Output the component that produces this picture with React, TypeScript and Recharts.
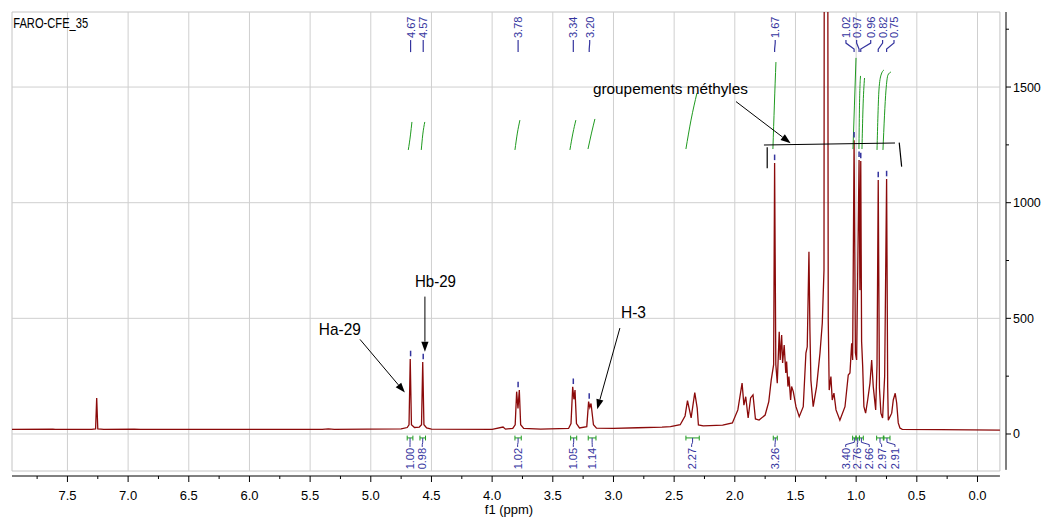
import { ComposedChart, Line, XAxis, YAxis, ReferenceLine, ReferenceDot, ReferenceArea } from 'recharts';

document.body.style.margin = '0';

// axis ranges (ppm reversed, intensity)
const X_MIN = -0.235;
const X_MAX = 7.957;
const Y_MIN = -181.6;
const Y_MAX = 1824.4;
const BOX_RIGHT = -0.185;
const BOX_BOTTOM = -160;

const xMajorTicks = [0, 0.5, 1, 1.5, 2, 2.5, 3, 3.5, 4, 4.5, 5, 5.5, 6, 6.5, 7, 7.5];
const xMinorTicks = [0.25, 0.75, 1.25, 1.75, 2.25, 2.75, 3.25, 3.75, 4.25, 4.75, 5.25, 5.75, 6.25, 6.75, 7.25, 7.75];
const yMajorTicks = [0, 500, 1000, 1500];
const yMinorTicks = [250, 750, 1250, 1750];

// spectrum: [ppm, intensity]
const spectrum: [number, number][] = [
  [7.957, 20], [7.62, 21], [7.6, 20], [7.3, 20], [7.268, 22], [7.259, 156], [7.25, 22], [7.2, 20],
  [6.95, 21], [6.9, 20], [5.4, 20], [5.35, 22], [5.3, 20], [4.75, 22], [4.7, 28], [4.685, 40],
  [4.675, 324], [4.665, 40], [4.64, 28], [4.6, 30], [4.582, 40], [4.572, 311], [4.562, 40], [4.54, 26],
  [4.5, 21], [4.0, 20], [3.91, 30], [3.89, 21], [3.83, 24], [3.81, 40], [3.798, 183], [3.787, 110],
  [3.776, 190], [3.765, 40], [3.74, 24], [3.6, 21], [3.37, 24], [3.35, 45], [3.336, 204], [3.326, 150],
  [3.317, 190], [3.305, 45], [3.28, 26], [3.22, 32], [3.205, 140], [3.195, 115], [3.185, 132], [3.165, 40],
  [3.14, 25], [3.0, 24], [2.8, 27], [2.6, 30], [2.53, 32], [2.45, 40], [2.41, 78], [2.39, 144],
  [2.36, 70], [2.33, 179], [2.31, 112], [2.3, 39], [2.26, 35], [2.1, 38], [2.02, 48], [1.975, 104],
  [1.94, 220], [1.925, 125], [1.91, 161], [1.89, 69], [1.87, 156], [1.85, 169], [1.83, 65], [1.8, 60],
  [1.75, 82], [1.72, 140], [1.7, 233], [1.68, 300], [1.672, 1172], [1.662, 300], [1.65, 220], [1.634, 442],
  [1.626, 320], [1.614, 428], [1.606, 307], [1.593, 385], [1.58, 264], [1.573, 313], [1.562, 205], [1.554, 248],
  [1.54, 147], [1.532, 205], [1.518, 183], [1.496, 118], [1.469, 75], [1.436, 118], [1.414, 350], [1.403, 377],
  [1.389, 788], [1.381, 450], [1.373, 233], [1.354, 118], [1.326, 205], [1.298, 350], [1.279, 480], [1.265, 709],
  [1.257, 6000], [1.243, 6000], [1.23, 493], [1.222, 190], [1.208, 248], [1.197, 147], [1.183, 177], [1.166, 104],
  [1.134, 60], [1.092, 118], [1.065, 255], [1.051, 264], [1.037, 392], [1.029, 320], [1.017, 1270], [1.006, 350],
  [0.996, 320], [0.976, 1185], [0.969, 622], [0.962, 1180], [0.955, 400], [0.946, 291], [0.936, 118], [0.922, 90],
  [0.905, 147], [0.886, 220], [0.872, 320], [0.859, 205], [0.839, 104], [0.828, 300], [0.818, 1098], [0.808, 200],
  [0.796, 90], [0.782, 69], [0.765, 250], [0.749, 1102], [0.74, 200], [0.735, 60], [0.707, 90], [0.694, 147],
  [0.678, 176], [0.666, 134], [0.653, 48], [0.639, 26], [0.62, 20], [0.3, 19], [-0.185, 17],
];

// integral curves (green)
const integralCurves: [number, number][][] = [
  [[4.691, 1228], [4.673, 1293], [4.661, 1349]],
  [[4.584, 1228], [4.572, 1293], [4.555, 1349]],
  [[3.812, 1228], [3.792, 1301], [3.771, 1357]],
  [[3.359, 1228], [3.334, 1301], [3.31, 1357]],
  [[3.21, 1232], [3.181, 1301], [3.153, 1362]],
  [[2.403, 1232], [2.361, 1357], [2.312, 1474]],
  [[1.686, 1232], [1.674, 1422], [1.661, 1608]],
  [[1.026, 1232], [1.014, 1422], [1.001, 1626]],
  [[0.977, 1232], [0.973, 1401], [0.964, 1548]],
  [[0.952, 1232], [0.944, 1401], [0.931, 1539]],
  [[0.828, 1228], [0.812, 1487], [0.795, 1552], [0.771, 1574]],
  [[0.779, 1228], [0.754, 1487], [0.738, 1552], [0.713, 1565]],
];

// integration regions and values
const integralFrom = [4.7, 4.595, 3.812, 3.353, 3.208, 2.403, 1.683, 1.029, 1.001, 0.973, 0.831, 0.771];
const integralTo = [4.653, 4.549, 3.76, 3.303, 3.144, 2.293, 1.65, 1.001, 0.973, 0.941, 0.776, 0.721];
const integralLabelAt = [4.677, 4.576, 3.79, 3.331, 3.175, 2.356, 1.669, 1.086, 0.991, 0.892, 0.79, 0.68];
const integralValues = ['1.00', '0.98', '1.02', '1.05', '1.14', '2.27', '3.26', '3.40', '2.76', '2.66', '2.97', '2.91'];

// peak picking
const peakText = ['4.67', '4.57', '3.78', '3.34', '3.20', '1.67', '1.02', '0.97', '0.96', '0.82', '0.75'];
const peakPpm = [4.672, 4.568, 3.786, 3.331, 3.2, 1.672, 1.017, 0.976, 0.962, 0.818, 0.749];
const peakHeight = [324, 311, 190, 204, 140, 1172, 1270, 1185, 1180, 1098, 1102];
const peakLabelAt = [4.672, 4.568, 3.786, 3.331, 3.196, 1.667, 1.084, 0.996, 0.88, 0.782, 0.688];

// annotations
const noteText = ['Ha-29', 'Hb-29', 'H-3', 'groupements méthyles'];
const noteX = [5.428, 4.636, 2.938, 3.169];
const noteY = [428, 634, 501, 1472];
const noteWidth = [42, 41, 25, 155];
const noteSize = [17, 17, 17, 15.5];
const arrowTail: [number, number][] = [[5.089, 409], [4.554, 594], [2.947, 458], [1.99, 1437]];
const arrowHead: [number, number][] = [[4.719, 179], [4.554, 356], [3.134, 107], [1.54, 1257]];
const bracket: [number, number][][] = [
  [[1.76, 1249.5], [0.68, 1258]],
  [[1.733, 1239.5], [1.733, 1148.7]],
  [[0.645, 1259.6], [0.625, 1156]],
];

const BLUE = '#34349e';
const GREEN = '#1f9a1f';
const GRID = '#cfcfcf';
const FONT = 'Liberation Sans, Arial, sans-serif';

const toPts = (arr: [number, number][]) => arr.map(([x, y]) => ({ x, y }));

const XTick = (props: any) => {
  const { x, y, payload } = props;
  const v = payload.value as number;
  const major = Math.abs(v * 2 - Math.round(v * 2)) < 1e-6;
  return (
    <g>
      <line x1={x} x2={x} y1={y} y2={y + (major ? 6 : 3)} stroke="#000" />
      {major && (
        <text x={x} y={y + 24} textAnchor="middle" fontSize={13} fill="#000" fontFamily={FONT}>
          {v.toFixed(1)}
        </text>
      )}
    </g>
  );
};

const YTick = (props: any) => {
  const { x, y, payload } = props;
  const v = payload.value as number;
  const major = v % 500 === 0;
  return (
    <g>
      <line x1={x} x2={x + (major ? 5 : 3)} y1={y} y2={y} stroke="#000" />
      {major && (
        <text x={x + 7} y={y + 4.5} fontSize={12.5} fill="#000" fontFamily={FONT}>
          {v}
        </text>
      )}
    </g>
  );
};

const arrowShape = (p: any) => {
  const { x1, y1, x2, y2 } = p;
  const a = Math.atan2(y2 - y1, x2 - x1);
  const len = 10;
  const half = 3.6;
  const bx = x2 - len * Math.cos(a);
  const by = y2 - len * Math.sin(a);
  const pts = `${x2},${y2} ${bx + half * Math.sin(a)},${by - half * Math.cos(a)} ${bx - half * Math.sin(a)},${by + half * Math.cos(a)}`;
  return (
    <g>
      <line x1={x1} y1={y1} x2={bx} y2={by} stroke="#000" strokeWidth={1} />
      <polygon points={pts} fill="#000" />
    </g>
  );
};

const vText = (text: string, anchor: 'start' | 'end', color: string) => (p: any) => (
  <text
    x={p.cx}
    y={p.cy}
    transform={`rotate(-90 ${p.cx} ${p.cy})`}
    textAnchor={anchor}
    dominantBaseline="central"
    fontSize={11}
    fill={color}
    fontFamily={FONT}
  >
    {text}
  </text>
);

const hText = (text: string, size: number, width: number) => (p: any) => (
  <text
    x={p.cx}
    y={p.cy}
    fontSize={size}
    fill="#000"
    fontFamily={FONT}
    textLength={width}
    lengthAdjust="spacingAndGlyphs"
  >
    {text}
  </text>
);

export default function App() {
  const spec = toPts(spectrum);

  return (
    <div style={{ width: 1042, height: 517, background: '#fff' }}>
      <ComposedChart width={1042} height={517} margin={{ top: 12, right: 0, bottom: 0, left: 12 }} style={{ fontFamily: FONT }}>
        <XAxis
          type="number"
          dataKey="x"
          domain={[X_MIN, X_MAX]}
          reversed
          allowDataOverflow
          ticks={[...xMajorTicks, ...xMinorTicks].sort((a, b) => a - b)}
          interval={0}
          tick={(p: any) => <XTick {...p} />}
          tickLine={false}
          axisLine={false}
          tickSize={0}
          tickMargin={0}
          height={41}
          label={{ value: 'f1 (ppm)', position: 'insideBottom', offset: 3, fill: '#000', fontSize: 13 }}
        />
        <YAxis
          type="number"
          orientation="right"
          domain={[Y_MIN, Y_MAX]}
          allowDataOverflow
          ticks={[...yMajorTicks, ...yMinorTicks].sort((a, b) => a - b)}
          interval={0}
          tick={(p: any) => <YTick {...p} />}
          tickLine={false}
          axisLine={false}
          tickSize={0}
          tickMargin={0}
          width={36}
        />

        {xMajorTicks.map((t) => (
          <ReferenceLine key={`gx${t}`} segment={[{ x: t, y: BOX_BOTTOM }, { x: t, y: Y_MAX }]} stroke={GRID} ifOverflow="visible" />
        ))}
        {yMajorTicks.map((t) => (
          <ReferenceLine key={`gy${t}`} segment={[{ x: X_MAX, y: t }, { x: BOX_RIGHT, y: t }]} stroke={GRID} ifOverflow="visible" />
        ))}
        <ReferenceArea x1={BOX_RIGHT} x2={X_MAX} y1={BOX_BOTTOM} y2={Y_MAX} fill="none" stroke="#c4c4c4" ifOverflow="visible" />
        <ReferenceLine segment={[{ x: X_MAX, y: Y_MIN }, { x: BOX_RIGHT, y: Y_MIN }]} stroke="#000" ifOverflow="visible" />
        <ReferenceLine segment={[{ x: X_MIN, y: -155 }, { x: X_MIN, y: Y_MAX }]} stroke="#000" ifOverflow="visible" />

        <Line data={spec} dataKey="y" type="linear" stroke="#8b0a0a" strokeWidth={1.3} dot={false} activeDot={false} isAnimationActive={false} />

        {integralCurves.map((c, i) => (
          <Line key={`ic${i}`} data={toPts(c)} dataKey="y" type="monotone" stroke={GREEN} strokeWidth={1} dot={false} activeDot={false} isAnimationActive={false} />
        ))}

        {/* peak picking markers and labels */}
        {peakPpm.map((p, i) => (
          <ReferenceLine key={`pm${i}`} segment={[{ x: p, y: peakHeight[i] + 12 }, { x: p, y: peakHeight[i] + 36 }]} stroke={BLUE} strokeWidth={1.5} />
        ))}
        {peakPpm.map((p, i) => (
          <Line
            key={`pc${i}`}
            data={toPts([[p, 1651], [p, 1664], [peakLabelAt[i], 1690], [peakLabelAt[i], 1703]])}
            dataKey="y"
            type="linear"
            stroke={BLUE}
            strokeWidth={1.2}
            dot={false}
            activeDot={false}
            isAnimationActive={false}
          />
        ))}
        {peakText.map((t, i) => (
          <ReferenceDot key={`pt${i}`} x={peakLabelAt[i]} y={1712} r={0} shape={vText(t, 'start', BLUE)} />
        ))}

        {/* integration marks */}
        {integralFrom.map((f, i) => (
          <ReferenceLine key={`ih${i}`} segment={[{ x: f, y: -17 }, { x: integralTo[i], y: -17 }]} stroke={GREEN} />
        ))}
        {integralFrom.map((f, i) => (
          <ReferenceLine key={`if${i}`} segment={[{ x: f, y: -7 }, { x: f, y: -28 }]} stroke={GREEN} />
        ))}
        {integralTo.map((f, i) => (
          <ReferenceLine key={`it${i}`} segment={[{ x: f, y: -7 }, { x: f, y: -28 }]} stroke={GREEN} />
        ))}
        {integralFrom.map((f, i) => {
          const c = (f + integralTo[i]) / 2;
          return (
            <Line
              key={`icn${i}`}
              data={toPts([[c, -17], [c, -36], [integralLabelAt[i], -46], [integralLabelAt[i], -56]])}
              dataKey="y"
              type="linear"
              stroke={BLUE}
              strokeWidth={1}
              dot={false}
              activeDot={false}
              isAnimationActive={false}
            />
          );
        })}
        {integralValues.map((t, i) => (
          <ReferenceDot key={`iv${i}`} x={integralLabelAt[i]} y={-60} r={0} shape={vText(t, 'end', BLUE)} />
        ))}

        {/* annotations */}
        {arrowTail.map((t, i) => (
          <ReferenceLine
            key={`ar${i}`}
            segment={[{ x: t[0], y: t[1] }, { x: arrowHead[i][0], y: arrowHead[i][1] }]}
            shape={arrowShape}
          />
        ))}
        {bracket.map((b, i) => (
          <ReferenceLine key={`br${i}`} segment={[{ x: b[0][0], y: b[0][1] }, { x: b[1][0], y: b[1][1] }]} stroke="#000" strokeWidth={1.2} />
        ))}
        {noteText.map((t, i) => (
          <ReferenceDot key={`nt${i}`} x={noteX[i]} y={noteY[i]} r={0} shape={hText(t, noteSize[i], noteWidth[i])} />
        ))}
        <ReferenceDot x={7.947} y={1754} r={0} shape={hText('FARO-CFE_35', 15, 75)} />
      </ComposedChart>
    </div>
  );
}
